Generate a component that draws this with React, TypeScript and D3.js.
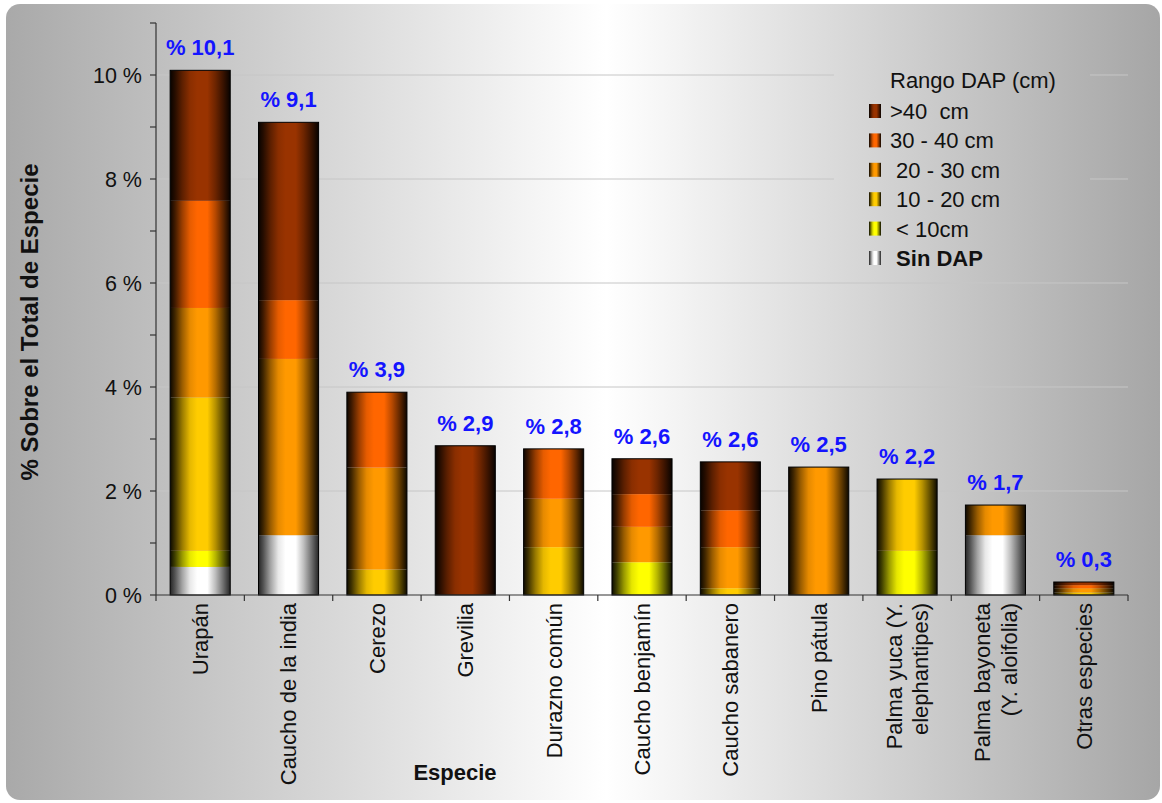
import React from "react";
import * as d3 from "d3";

// Species (x categories); "\n" splits a label into two lines
const categories = [
  "Urapán",
  "Caucho de la india",
  "Cerezo",
  "Grevilia",
  "Durazno común",
  "Caucho benjamín",
  "Caucho sabanero",
  "Pino pátula",
  "Palma yuca (Y.\nelephantipes)",
  "Palma bayoneta\n(Y. aloifolia)",
  "Otras especies",
];

// Share of the species total (%) per DAP range, stacked bottom to top
const sinDap = [0.54, 1.15, 0, 0, 0, 0, 0, 0, 0, 1.15, 0];
const menor10 = [0.31, 0, 0, 0, 0, 0.63, 0, 0, 0.85, 0, 0];
const rango10a20 = [2.95, 0, 0.49, 0, 0.92, 0, 0.13, 0, 1.38, 0, 0.05];
const rango20a30 = [1.72, 3.39, 1.96, 0, 0.93, 0.68, 0.79, 2.46, 0, 0.58, 0.08];
const rango30a40 = [2.06, 1.13, 1.45, 0, 0.96, 0.63, 0.71, 0, 0, 0, 0.06];
const mayor40 = [2.51, 3.42, 0, 2.87, 0, 0.68, 0.93, 0, 0, 0, 0.06];

const seriesKeys = ["sin", "m10", "r1020", "r2030", "r3040", "m40"];
const seriesValues = [sinDap, menor10, rango10a20, rango20a30, rango30a40, mayor40];
const seriesColors = ["#ffffff", "#ffff00", "#ffcc00", "#ff9900", "#ff6600", "#993300"];

// Legend entries, top to bottom (reverse of stacking order)
const legendLabels = [">40  cm", "30 - 40 cm", " 20 - 30 cm", " 10 - 20 cm", " < 10cm", " Sin DAP"];
const legendKeys = ["m40", "r3040", "r2030", "r1020", "m10", "sin"];

const yTicks = [0, 2, 4, 6, 8, 10];
const yMinorTicks = [1, 3, 5, 7, 9];

const W = 1162;
const H = 803;
const FONT = "'Liberation Sans', Arial, Helvetica, sans-serif";

const x = d3.scaleBand<string>().domain(categories).range([156, 1128]).paddingInner(0.32).paddingOuter(0.16);
const y = d3.scaleLinear().domain([0, 11]).range([595, 23]);

// Cylinder shading profile: [offset, brightness]
const profile: [number, number][] = [
  [0, 0.05],
  [0.08, 0.25],
  [0.2, 0.6],
  [0.33, 0.9],
  [0.45, 1],
  [0.62, 1],
  [0.75, 0.72],
  [0.88, 0.38],
  [1, 0.05],
];

function stopsFor(color: string) {
  const dark = color === "#ffffff" ? "#1a1a1a" : "#000000";
  const interp = d3.interpolateRgb(dark, color);
  return profile.map(([o, t], i) => <stop key={i} offset={o} stopColor={interp(t)} />);
}

export default function App() {
  const n = categories.length;
  const stacks = d3.range(n).map((i) => {
    let acc = 0;
    return seriesKeys.map((k, s) => {
      const v = seriesValues[s][i];
      const seg = { key: k, y0: acc, y1: acc + v };
      acc += v;
      return seg;
    });
  });
  const totals = d3.range(n).map((i) => d3.sum(seriesValues, (arr) => arr[i]));
  const fmt = (v: number) => "% " + v.toFixed(1).replace(".", ",");

  return (
    <svg
      width={W}
      height={H}
      style={{ position: "absolute", left: 0, top: 0, background: "#ffffff" }}
      fontFamily={FONT}
    >
      <defs>
        <linearGradient id="bg" gradientUnits="userSpaceOnUse" x1={6} y1={0} x2={1160} y2={0}>
          <stop offset={0} stopColor="#a9a9a9" />
          <stop offset={0.52} stopColor="#ffffff" />
          <stop offset={1} stopColor="#a6a6a6" />
        </linearGradient>
        {seriesKeys.map((k, s) => (
          <linearGradient key={k} id={`g-${k}`} x1={0} y1={0} x2={1} y2={0}>
            {stopsFor(seriesColors[s])}
          </linearGradient>
        ))}
      </defs>

      <rect x={6} y={4} width={1154} height={796} rx={14} fill="url(#bg)" />

      {/* grid */}
      {yTicks.filter((t) => t > 0).map((t) => (
        <line key={t} x1={156} x2={1128} y1={y(t)} y2={y(t)} stroke="#c6c6c6" strokeWidth={1} />
      ))}

      {/* legend panel hides the grid behind it */}
      <rect x={834} y={62} width={256} height={216} fill="url(#bg)" />

      {/* bars */}
      {stacks.map((segs, i) => {
        const bx = x(categories[i])!;
        const bw = x.bandwidth();
        return (
          <g key={i}>
            {segs
              .filter((s) => s.y1 > s.y0)
              .map((s) => (
                <rect
                  key={s.key}
                  x={bx}
                  y={y(s.y1)}
                  width={bw}
                  height={y(s.y0) - y(s.y1)}
                  fill={`url(#g-${s.key})`}
                />
              ))}
            <rect
              x={bx}
              y={y(totals[i])}
              width={bw}
              height={y(0) - y(totals[i])}
              fill="none"
              stroke="#000"
              strokeWidth={1}
            />
            <text
              x={bx + bw / 2}
              y={y(totals[i]) - 15}
              textAnchor="middle"
              fontWeight="bold"
              fontSize={22}
              fill="#1414ff"
            >
              {fmt(totals[i])}
            </text>
          </g>
        );
      })}

      {/* y axis */}
      <line x1={156} x2={156} y1={y(11)} y2={y(0)} stroke="#333" strokeWidth={1.2} />
      {[...yTicks, ...yMinorTicks, 11].map((t) => (
        <line key={"t" + t} x1={150} x2={156} y1={y(t)} y2={y(t)} stroke="#333" strokeWidth={1.2} />
      ))}
      {yTicks.map((t) => (
        <text key={t} x={142} y={y(t)} dy="0.36em" textAnchor="end" fontSize={21.5} fill="#111">
          {`${t} %`}
        </text>
      ))}

      {/* x axis */}
      <line x1={156} x2={1128} y1={y(0)} y2={y(0)} stroke="#333" strokeWidth={1.2} />
      {d3.range(n + 1).map((i) => {
        const px = 156 + i * x.step();
        return <line key={i} x1={px} x2={px} y1={y(0)} y2={y(0) + 6} stroke="#333" strokeWidth={1.2} />;
      })}
      {categories.map((c) => {
        const lines = c.split("\n");
        const cx = x(c)! + x.bandwidth() / 2;
        const lh = 27;
        return (
          <g key={c} transform={`translate(${cx},603) rotate(-90)`}>
            {lines.map((ln, j) => (
              <text
                key={j}
                x={0}
                y={(j - (lines.length - 1) / 2) * lh}
                dy="0.36em"
                textAnchor="end"
                fontSize={22}
                fill="#111"
              >
                {ln}
              </text>
            ))}
          </g>
        );
      })}

      {/* axis titles */}
      <text
        transform={`translate(29,322) rotate(-90)`}
        dy="0.36em"
        textAnchor="middle"
        fontWeight="bold"
        fontSize={24}
        fill="#111"
      >
        % Sobre el Total de Especie
      </text>
      <text x={455} y={772} dy="0.36em" textAnchor="middle" fontWeight="bold" fontSize={22} fill="#111">
        Especie
      </text>

      {/* legend */}
      <text x={890} y={80} dy="0.36em" fontSize={22} fill="#111">
        Rango DAP (cm)
      </text>
      {legendKeys.map((k, i) => {
        const cy = 111 + i * 29.4;
        return (
          <g key={k}>
            <rect x={869} y={cy - 7} width={12} height={14} fill={`url(#g-${k})`} />
            <text
              x={890}
              y={cy}
              dy="0.36em"
              fontSize={22}
              fill="#111"
              fontWeight={k === "sin" ? "bold" : "normal"}
              style={{ whiteSpace: "pre" }}
            >
              {legendLabels[i]}
            </text>
          </g>
        );
      })}
    </svg>
  );
}
